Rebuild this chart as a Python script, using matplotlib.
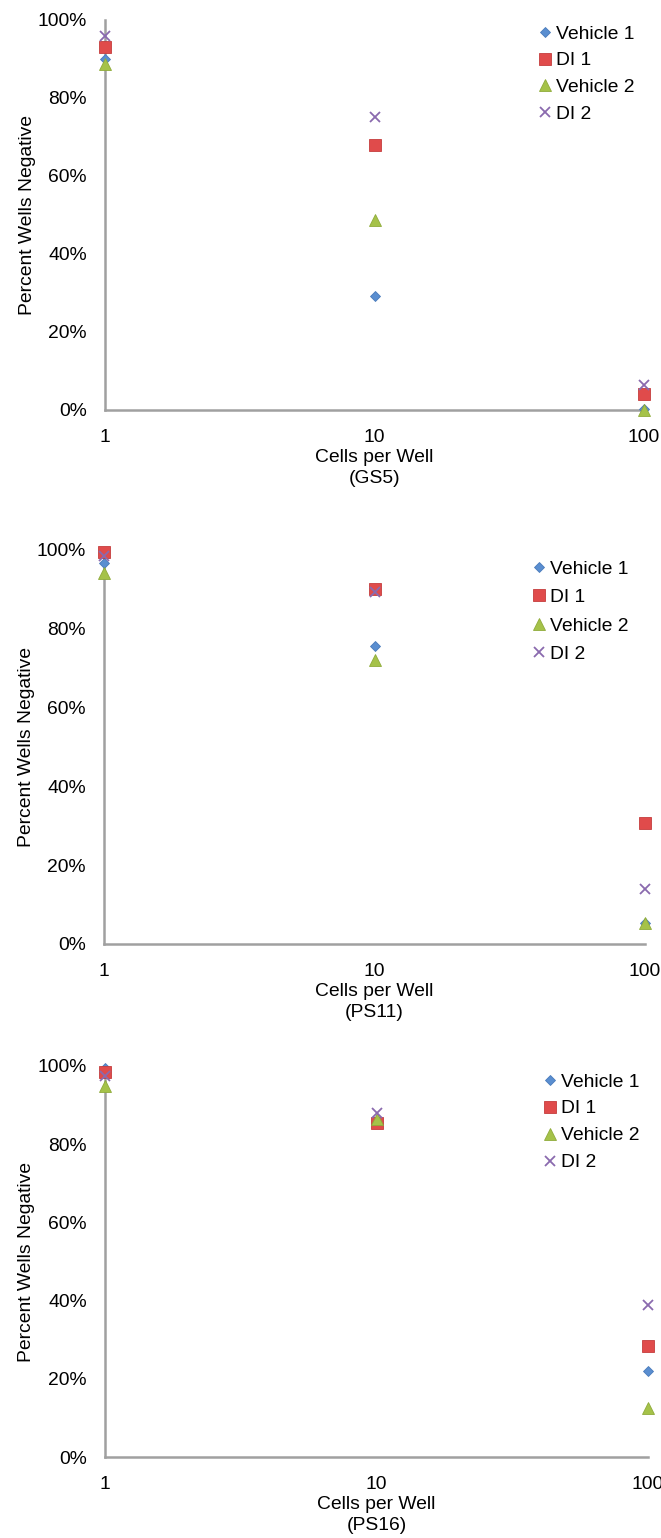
import matplotlib
matplotlib.use("Agg")
import matplotlib.pyplot as plt
from matplotlib.ticker import FuncFormatter, NullLocator

plt.rcParams["font.family"] = ["Liberation Sans", "DejaVu Sans"]

# données (fraction de puits négatifs)
cellules = [1, 10, 100]
series = ["Vehicle 1", "DI 1", "Vehicle 2", "DI 2"]
lignees = ["GS5", "PS11", "PS16"]

gs5_vehicle1 = [0.90, 0.293, 0.002]
gs5_di1 = [0.931, 0.679, 0.040]
gs5_vehicle2 = [0.887, 0.486, 0.0]
gs5_di2 = [0.959, 0.752, 0.064]

ps11_vehicle1 = [0.966, 0.756, 0.054]
ps11_di1 = [0.996, 0.902, 0.307]
ps11_vehicle2 = [0.941, 0.721, 0.054]
ps11_di2 = [0.986, 0.894, 0.139]

ps16_vehicle1 = [0.996, 0.861, 0.220]
ps16_di1 = [0.984, 0.855, 0.284]
ps16_vehicle2 = [0.948, 0.865, 0.125]
ps16_di2 = [0.974, 0.880, 0.390]

valeurs = [
    [gs5_vehicle1, gs5_di1, gs5_vehicle2, gs5_di2],
    [ps11_vehicle1, ps11_di1, ps11_vehicle2, ps11_di2],
    [ps16_vehicle1, ps16_di1, ps16_vehicle2, ps16_di2],
]

# style des marqueurs (type Excel)
styles = [
    dict(marker="D", ms=5.6, color="#5A8ED0", mec="#4a7bbb", mew=0.6),
    dict(marker="s", ms=9, color="#E04B4B", mec="#c43d3d", mew=0.6),
    dict(marker="^", ms=9, color="#A5C249", mec="#8fab3a", mew=0.6),
    dict(marker="x", ms=7, color="#8A6AAE", mec="#8A6AAE", mew=1.3),
]

W, H = 661, 1538
fig = plt.figure(figsize=(W / 100, H / 100), dpi=100)

# position des axes en pixels : gauche, droite, haut (100%), bas (0%)
cadres = [(105, 644, 20, 410), (104, 645, 550, 944), (105, 648, 1066, 1457)]
# légende : x gauche, y haut (pixels), espacement des lignes
legendes = [(539.2, 25.3, 0.47), (533.2, 560.3, 0.565), (544.2, 1073, 0.49)]

fs = 13.9
gris = "#A0A0A0"

for k, (g, d, h, b) in enumerate(cadres):
    ax = fig.add_axes([g / W, 1 - b / H, (d - g) / W, (b - h) / H])
    for nom, ys, st in zip(series, valeurs[k], styles):
        ax.plot(cellules, ys, linestyle="none", label=nom, clip_on=False, **st)

    ax.set_xscale("log")
    ax.set_xlim(1, 100)
    ax.set_ylim(0, 1)
    ax.set_xticks(cellules)
    ax.set_xticklabels([str(c) for c in cellules])
    ax.xaxis.set_minor_locator(NullLocator())
    ax.set_yticks([0, 0.2, 0.4, 0.6, 0.8, 1.0])
    ax.yaxis.set_major_formatter(FuncFormatter(lambda v, p: f"{v:.0%}"))
    ax.tick_params(axis="both", length=0, labelsize=fs)
    ax.tick_params(axis="y", pad=13)
    ax.tick_params(axis="x", pad=13.8)

    for s in ["top", "right"]:
        ax.spines[s].set_visible(False)
    for s in ["left", "bottom"]:
        ax.spines[s].set_color(gris)
        ax.spines[s].set_linewidth(1.8)
        ax.spines[s].set_zorder(0.5)

    ax.set_ylabel("Percent Wells Negative", fontsize=fs)
    ax.yaxis.set_label_coords(-0.128, 0.5)
    ax.set_xlabel(f"Cells per Well\n({lignees[k]})", fontsize=fs, linespacing=1.31)
    ax.xaxis.set_label_coords(0.5, -39.3 / (b - h))

    lx, ly, ls = legendes[k]
    ax.legend(loc="upper left", bbox_to_anchor=(lx / W, 1 - ly / H),
              bbox_transform=fig.transFigure, frameon=False, fontsize=fs,
              borderpad=0, borderaxespad=0, handlelength=0.6,
              handletextpad=0.28, labelspacing=ls, numpoints=1)

fig.savefig("out.png", dpi=100)
